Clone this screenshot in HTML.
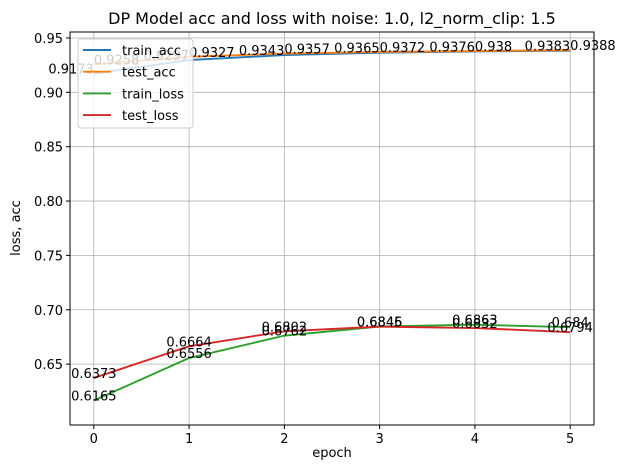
<!DOCTYPE html>
<html><head><meta charset="utf-8"><style>
body{margin:0;background:#fff;}
svg{display:block;font-family:"DejaVu Sans","Liberation Sans",sans-serif;}
</style></head><body>
<svg id="chart" width="628" height="470" viewBox="0 0 628 470" xmlns="http://www.w3.org/2000/svg">
<rect width="628" height="470" fill="#fff"/>
<g id="grid"></g>
<g id="series"></g>
<g id="labels"></g>
<rect x="70" y="32" width="524" height="393" fill="none" stroke="#000" stroke-width="1"/>
<g id="ticks"></g>
<text x="332" y="24" font-size="16" text-anchor="middle">DP Model acc and loss with noise: 1.0, l2_norm_clip: 1.5</text>
<text x="332" y="457" font-size="13" text-anchor="middle">epoch</text>
<text transform="translate(20,228) rotate(-90)" font-size="13" text-anchor="middle">loss, acc</text>
<g id="legend"></g>
</svg>
<script>
const epochs = [0,1,2,3,4,5];
const trainAcc = [0.9173,0.9297,0.9343,0.9365,0.9376,0.9383];
const testAcc = [0.9258,0.9327,0.9357,0.9372,0.938,0.9388];
const trainLoss = [0.6165,0.6556,0.6762,0.6846,0.6863,0.684];
const testLoss = [0.6373,0.6664,0.6802,0.6845,0.6832,0.6794];
const yTicks = [0.65,0.70,0.75,0.80,0.85,0.90,0.95];
const xTicks = [0,1,2,3,4,5];
const seriesNames = ["train_acc","test_acc","train_loss","test_loss"];

const NS="http://www.w3.org/2000/svg";
const X0=70,X1=594,Y0=32,Y1=425;
const xMin=-0.25,xMax=5.25,yMin=0.594,yMax=0.9555;
function xs(v){return X0+(v-xMin)/(xMax-xMin)*(X1-X0);}
function ys(v){return Y1-(v-yMin)/(yMax-yMin)*(Y1-Y0);}
function mk(tag,attrs,parent,text){const e=document.createElementNS(NS,tag);for(const k in attrs)e.setAttribute(k,attrs[k]);if(text!==undefined)e.textContent=text;parent.appendChild(e);return e;}
const grid=document.getElementById('grid'),ticks=document.getElementById('ticks');
xTicks.forEach(t=>{
  const g=mk('line',{x1:xs(t),x2:xs(t),y1:Y0,y2:Y1,stroke:'#b0b0b0','stroke-width':0.8},grid);
  
  
  mk('line',{x1:xs(t),x2:xs(t),y1:Y1,y2:Y1+4,stroke:'#000'},ticks);
  const l=mk('text',{x:xs(t),y:Y1+18,'font-size':13,'text-anchor':'middle'},ticks,String(t));
  
  
});
yTicks.forEach(t=>{
  const g=mk('line',{x1:X0,x2:X1,y1:ys(t),y2:ys(t),stroke:'#b0b0b0','stroke-width':0.8},grid);
  
  
  mk('line',{x1:X0-4,x2:X0,y1:ys(t),y2:ys(t),stroke:'#000'},ticks);
  const l=mk('text',{x:X0-7,y:ys(t)+5,'font-size':13,'text-anchor':'end'},ticks,t.toFixed(2));
  
  
});
const ser=document.getElementById('series'),lab=document.getElementById('labels');
const defs=[[trainAcc,'#1f77b4','end'],[testAcc,'#ff7f0e','start'],[trainLoss,'#2ca02c','middle'],[testLoss,'#d62728','middle']];
defs.forEach((d,i)=>{
  const pts=epochs.map((e,j)=>xs(e)+','+ys(d[0][j])).join(' ');
  const p=mk('polyline',{points:pts,fill:'none',stroke:d[1],'stroke-width':1.9},ser);
  
  
});
defs.forEach((d,i)=>{
  epochs.forEach((e,j)=>{
    const t=mk('text',{x:xs(e),y:ys(d[0][j]),'font-size':13,'text-anchor':d[2]},lab,String(d[0][j]));
    
    
  });
});
const lg=document.getElementById('legend');
const box=mk('rect',{x:78,y:39,width:115,height:89,rx:3,fill:'#fff','fill-opacity':0.8,stroke:'#ccc'},lg);


seriesNames.forEach((n,i)=>{
  const y=50+i*21.7;
  mk('line',{x1:83,x2:111,y1:y,y2:y,stroke:defs[i][1],'stroke-width':1.9},lg);
  const t=mk('text',{x:122,y:y+5,'font-size':13},lg,n);
  
  
});
</script>
</body></html>
